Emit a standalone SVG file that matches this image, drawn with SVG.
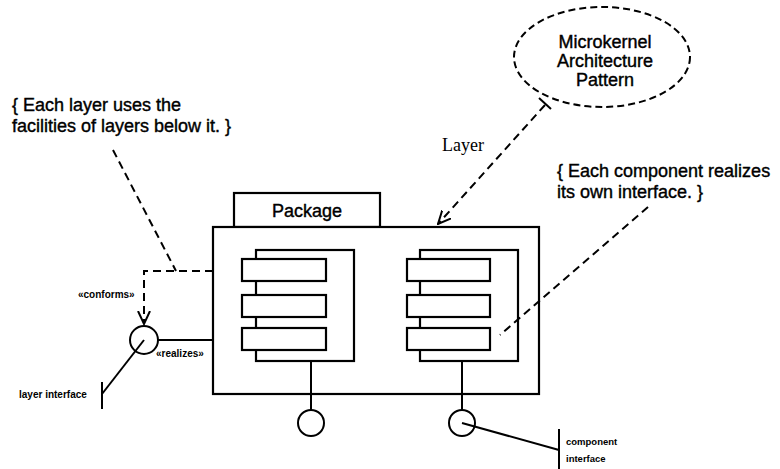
<svg xmlns="http://www.w3.org/2000/svg" width="780" height="469" viewBox="0 0 780 469">
<style>
.ln{fill:none;stroke:#000;stroke-width:2}
.box{fill:#fff;stroke:#000;stroke-width:2.2}
.dash{fill:none;stroke:#000;stroke-width:2;stroke-dasharray:8 5}
.t{font-family:"Liberation Sans",Arial,sans-serif;fill:#000}
.big{font-size:18px;stroke:#000;stroke-width:0.4}
.sm{font-size:10px;font-weight:bold}
.serif{font-family:"Liberation Serif","Times New Roman",serif;font-size:18px;fill:#000}
</style>
<defs>
<marker id="open" viewBox="0 0 14 14" refX="13" refY="7" markerWidth="14" markerHeight="14" markerUnits="userSpaceOnUse" orient="auto">
<path d="M0,1 L13,7 L0,13" fill="none" stroke="#000" stroke-width="2"/>
</marker>
</defs>
<rect width="780" height="469" fill="#fff"/>

<g id="note-layers">
<text class="t big" x="12" y="111">{ Each layer uses the</text>
<text class="t big" x="12" y="132">facilities of layers below it. }</text>
</g>

<g id="pattern">
<ellipse cx="602" cy="57" rx="88" ry="50" fill="none" stroke="#000" stroke-width="2" stroke-dasharray="7 4"/>
<text class="t big" x="605" y="48" text-anchor="middle">Microkernel</text>
<text class="t big" x="605" y="67" text-anchor="middle">Architecture</text>
<text class="t big" x="605" y="86" text-anchor="middle">Pattern</text>
</g>

<g id="layer-label">
<text class="serif" x="442" y="151">Layer</text>
</g>

<g id="note-components">
<text class="t big" x="557" y="177">{ Each component realizes</text>
<text class="t big" x="557" y="198">its own interface. }</text>
</g>

<g id="package">
<rect class="box" x="234" y="193" width="146" height="34"/>
<text class="t big" x="307" y="217" text-anchor="middle">Package</text>
<rect class="box" x="213" y="227" width="326" height="167"/>
</g>

<g id="component-left">
<rect class="box" x="256" y="250" width="98" height="111" stroke-width="2.5"/>
<rect class="box" x="242" y="259" width="84" height="22" stroke-width="2.5"/>
<rect class="box" x="242" y="295" width="84" height="22" stroke-width="2.5"/>
<rect class="box" x="242" y="328" width="84" height="22" stroke-width="2.5"/>
</g>

<g id="component-right">
<rect class="box" x="420" y="250" width="98" height="111" stroke-width="2.5"/>
<rect class="box" x="407" y="259" width="83" height="22" stroke-width="2.5"/>
<rect class="box" x="407" y="295" width="83" height="22" stroke-width="2.5"/>
<rect class="box" x="407" y="328" width="83" height="22" stroke-width="2.5"/>
</g>

<g id="layer-interface">
<circle cx="144" cy="340" r="14" fill="none" stroke="#000" stroke-width="2"/>
<text class="t sm" x="19" y="398">layer interface</text>
</g>

<g id="iface-left">
<circle cx="311" cy="423" r="13" fill="none" stroke="#000" stroke-width="2"/>
</g>

<g id="iface-right">
<circle cx="462" cy="423" r="13" fill="none" stroke="#000" stroke-width="2"/>
<text class="t sm" x="566" y="445" style="font-size:9.5px">component</text>
<text class="t sm" x="566" y="462" style="font-size:9.5px">interface</text>
</g>

<g id="connectors">
<line class="dash" x1="113" y1="150" x2="176" y2="271"/>
<polyline class="dash" points="213,271 144,271 144,324" marker-end="url(#open)"/>
<line class="dash" x1="545" y1="105" x2="438" y2="224" marker-end="url(#open)"/>
<line class="ln" x1="539" y1="98" x2="551" y2="109"/>
<line class="dash" x1="648" y1="207" x2="500" y2="335"/>
<line class="ln" x1="158" y1="340" x2="213" y2="340"/>
<text class="t sm" x="78" y="298">«conforms»</text>
<text class="t sm" x="156" y="357">«realizes»</text>
<line class="ln" x1="144" y1="340" x2="102" y2="394"/>
<line class="ln" x1="102" y1="382" x2="102" y2="409"/>
<line class="ln" x1="311" y1="361" x2="311" y2="410"/>
<line class="ln" x1="462" y1="361" x2="462" y2="410"/>
<line class="ln" x1="462" y1="423" x2="559" y2="450"/>
<line class="ln" x1="559" y1="429" x2="559" y2="469"/>
</g>
</svg>
